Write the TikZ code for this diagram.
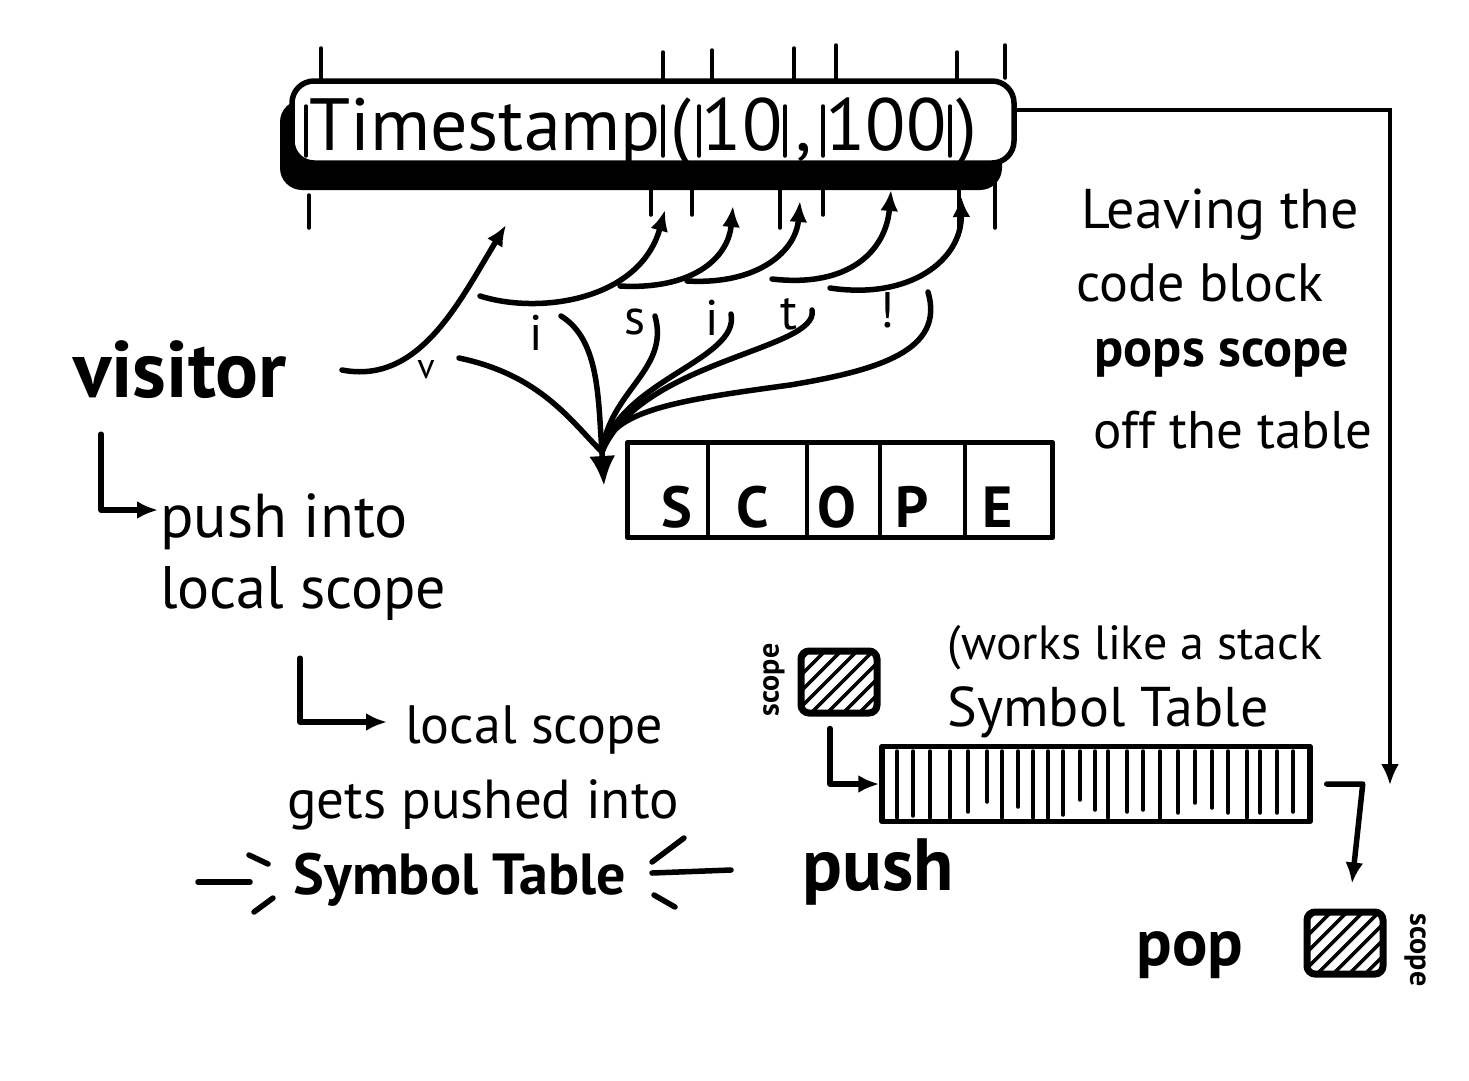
\documentclass[tikz,border=0pt]{standalone}
\usepackage{fontspec}
\setmainfont{PT Sans}
\usepackage{tikz}
\usetikzlibrary{positioning,arrows.meta}

\tikzset{
  pen/.style={line width=5.5pt, line cap=round, line join=round},
  thinpen/.style={line width=3.5pt, line cap=round},
  hand/.style={inner sep=0pt, font=\fontsize{#1}{#1}\selectfont},
  boldhand/.style={inner sep=0pt, font=\fontsize{#1}{#1}\selectfont\bfseries},
  hatchbox/.style={draw, line width=7pt, rounded corners=8pt, minimum width=76pt, minimum height=62pt,
    path picture={\foreach \k in {-70,-54,...,84}
      \draw[line width=3.5pt] ([xshift=\k pt]path picture bounding box.south west) -- ++(80pt,80pt);}},
}

\begin{document}
\begin{tikzpicture}[x=1pt,y=-1pt,>={Latex[length=21pt,width=18pt]}]
\useasboundingbox[fill=white] (0,0) rectangle (1469,1080);

\fill[rounded corners=22pt] (280,100) rectangle (1002,190);
\node[draw, pen, fill=white, rounded corners=22pt, minimum width=722pt, minimum height=82pt] (tsbox) at (653,122) {};
\node[hand=74, anchor=base] (tsname) at (485,150) {Timestamp};
\node[hand=74, anchor=base] (tsopen) at (681,150) {(};
\node[hand=74, anchor=base] (tsten) at (742,150) {10};
\node[hand=74, anchor=base] (tscomma) at (804,150) {,};
\node[hand=74, anchor=base] (tshund) at (886,150) {100};
\node[hand=74, anchor=base] (tsclose) at (967,150) {)};
\foreach \x in {306,663,699,785,823,950}
\draw[thinpen] (\x,106) -- (\x,156);
\foreach \x/\a/\b in {321/48/80,663/52/82,712/50/82,794/48/80,836/45/80,957/52/80,1005/45/78}
\draw[thinpen] (\x,\a) -- (\x,\b);
\foreach \x/\a/\b in {309/195/228,651/182/215,692/182/215,780/182/228,823/182/215,959/185/228,995/180/228}
\draw[thinpen] (\x,\a) -- (\x,\b);

\node[boldhand=80] (visitor) at (180,370) {visitor};
\node[hand=36] (lv) at (426,370) {v};
\node[hand=50] (li) at (536,333) {i};
\node[hand=50] (ls) at (635,322) {s};
\node[hand=50] (lii) at (712,318) {i};
\node[hand=50] (lt) at (789,314) {t};
\node[hand=50] (lbang) at (887,310) {!};

\coordinate (tpv) at (506,225);
\coordinate (tpi) at (665,210);
\coordinate (tps) at (733,206);
\coordinate (tpii) at (800,201);
\coordinate (tpt) at (891,190);
\coordinate (tpbang) at (961,196);
\draw[pen,->] ([xshift=55pt]visitor.east) .. controls (420,385) and (460,300) .. (tpv);
\draw[pen,->] (480,296) .. controls (540,315) and (640,300) .. (tpi);
\draw[pen,->] (620,286) .. controls (690,290) and (728,260) .. (tps);
\draw[pen,->] (687,281) .. controls (760,285) and (796,250) .. (tpii);
\draw[pen,->] (772,279) .. controls (850,288) and (886,250) .. (tpt);
\draw[pen,->] (830,288) .. controls (910,300) and (962,260) .. (tpbang);

\node[draw, pen, minimum width=425pt, minimum height=95pt] (scope) at (840,490) {};
\foreach \x in {708,807,880,965}
\draw[thinpen] (\x,445) -- (\x,535);
\foreach \c/\x in {S/677,C/753,O/837,P/912,E/998}
\node[boldhand=58, anchor=base] at (\x,527) {\c};

\coordinate (sbase) at (602,452);
\coordinate (sin) at (604,486);
\draw[pen] (459,358) .. controls (540,375) and (570,420) .. (sbase);
\draw[pen] (561,316) .. controls (600,340) and (598,400) .. (sbase);
\draw[pen] (655,316) .. controls (670,370) and (610,390) .. (sbase);
\draw[pen] (731,314) .. controls (740,360) and (620,380) .. (sbase);
\draw[pen] (812,310) .. controls (820,350) and (640,360) .. (sbase);
\draw[pen] (928,292) .. controls (945,350) and (880,370) .. (790,385) .. controls (680,400) and (610,410) .. (sbase);
\draw[pen,-{Latex[length=30pt,width=26pt]}] (sbase) -- (sin);

\node[hand=62, anchor=west] (pushi) at (160,522) {push into};
\node[hand=60, anchor=west] (pushii) at (160,593) {local scope};
\draw[pen,->] ([xshift=-79pt,yshift=-35pt]visitor.south) |- ([xshift=-2pt,yshift=12pt]pushi.west);
\node[hand=54, anchor=west] (localsc) at (405,730) {local scope};
\draw[pen,->] ([xshift=140pt,yshift=-38pt]pushii.south west) |- ([xshift=-18pt,yshift=8pt]localsc.west);
\node[hand=55] (gets) at (483,805) {gets pushed into};
\node[boldhand=58] (symbl) at (460,880) {Symbol Table};
\draw[pen] (198,882) -- (250,882);
\draw[pen] (249,855) -- (268,864);
\draw[pen] (254,912) -- (273,898);
\draw[pen] (652,862) -- (684,838);
\draw[pen] (652,873) -- (731,870);
\draw[pen] (654,895) -- (675,907);

\node[boldhand=74] (push) at (878,872) {push};

\node[hand=56] (leave) at (1220,215) {Leaving the};
\node[hand=54] (code) at (1200,283) {code block};
\node[boldhand=54] (pops) at (1222,358) {pops scope};
\node[hand=53] (offt) at (1233,430) {off the table};

\coordinate (tsout) at (1017,110);
\coordinate (popdrop) at (1390,785);
\draw[thinpen,->] (tsout) -| (popdrop);

\node[hand=48] (works) at (1135,648) {(works like a stack};
\node[hand=56] (symtab) at (1108,712) {Symbol Table};
\node[draw, pen, minimum width=428pt, minimum height=75pt] (stack) at (1096,784) {};
\foreach \x/\b in {897/818,913/816,930/818,950/818,968/812,987/802,1002/818,1018/807,1033/818,1048/818,1063/815,1080/800,1095/810,1108/818,1127/812,1143/810,1160/818,1178/813,1195/803,1212/808,1228/813,1247/818,1260/813,1277/813,1293/812}
\draw[thinpen] (\x,751) -- (\x,\b);

\node[hatchbox] (sqin) at (839,682) {};
\node[boldhand=30, rotate=90] (scin) at (774,680) {scope};
\draw[pen,->] ([xshift=-9pt,yshift=-12pt]sqin.south) |- (stack.west);

\node[hatchbox] (sqout) at (1345,943) {};
\node[boldhand=30, rotate=-90] (scout) at (1415,950) {scope};
\draw[pen,->] ([xshift=14pt]stack.east) -- ++(36,0) -- ([xshift=7pt,yshift=25pt]sqout.north);
\node[boldhand=66] (pop) at (1190,955) {pop};
\end{tikzpicture}
\end{document}
